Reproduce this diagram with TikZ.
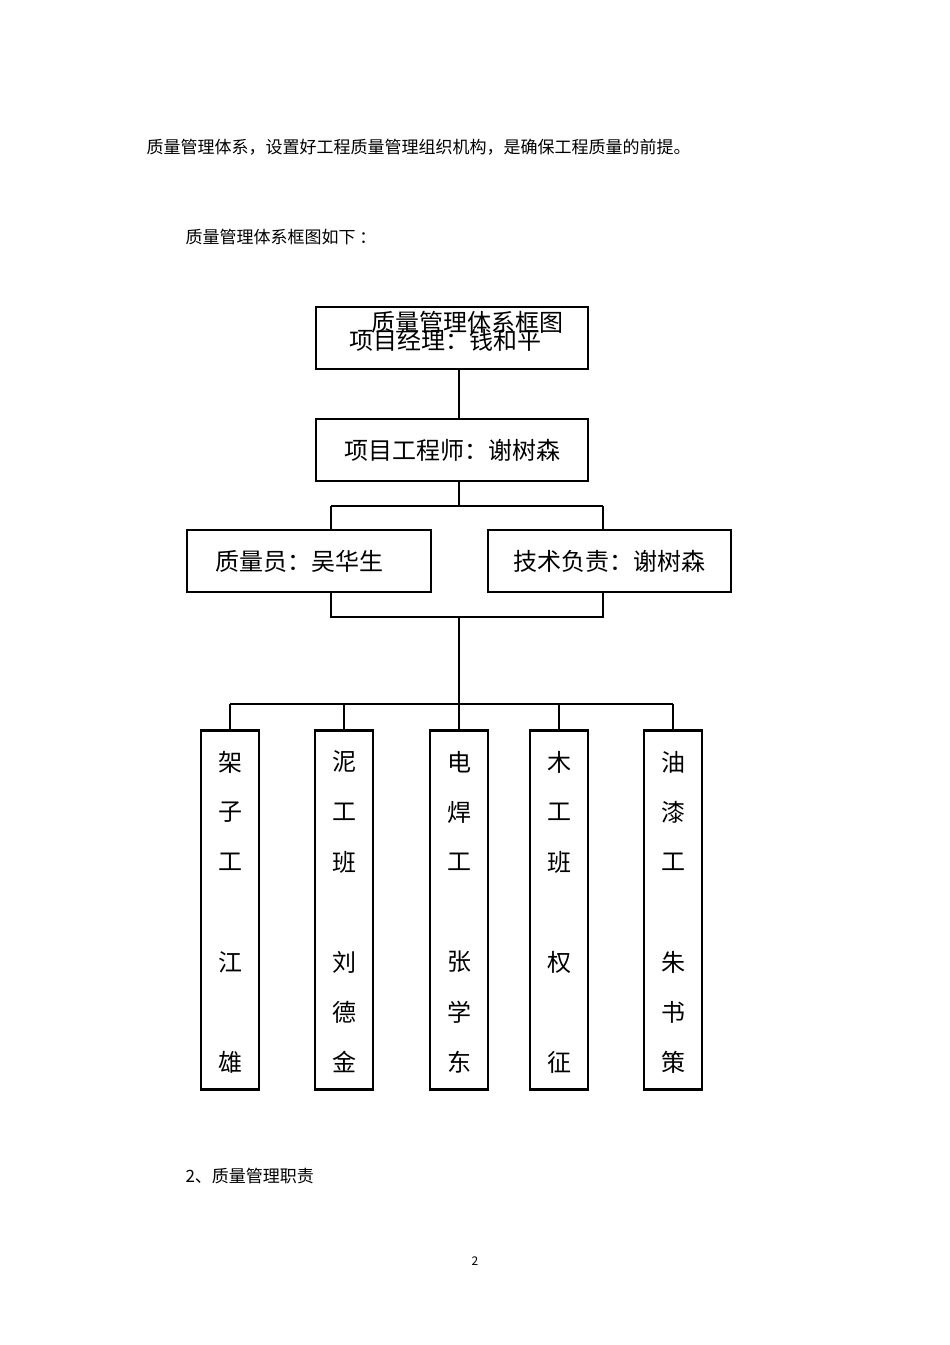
\documentclass[tikz,border=0pt]{standalone}
\usepackage{fontspec}
\setmainfont{Noto Sans CJK SC}
\begin{document}
\begin{tikzpicture}[x=1pt,y=-1pt,
  box/.style={draw,line width=2.6pt,inner sep=0pt},
  ln/.style={line width=2.6pt},
  big/.style={font=\fontsize{24}{24}\selectfont},
  col/.style={draw,line width=2.6pt,minimum width=58pt,minimum height=359pt,anchor=north,inner sep=0pt},
  colt/.style={font=\fontsize{24}{24}\selectfont,align=center}]
\useasboundingbox (0,0) rectangle (950,1345);
\node[anchor=west,font=\fontsize{17}{17}\selectfont] (t1) at (143,147) {质量管理体系，设置好工程质量管理组织机构，是确保工程质量的前提。};
\node[anchor=west,font=\fontsize{17}{17}\selectfont] (t2) at (182,237) {质量管理体系框图如下 ：};
\node[anchor=west,font=\fontsize{17}{17}\selectfont] (t3) at (182,1176) {2、质量管理职责};
\node[font=\fontsize{12}{12}\selectfont] (pg) at (475,1261) {2};

\node[box,minimum width=272pt,minimum height=62pt] (pm) at (452,338) {};
\node[big] (pmt) at (445,340) {项目经理：钱和平};
\node[big] (title) at (467,322) {质量管理体系框图};
\node[box,minimum width=272pt,minimum height=62pt,big] (pe) at (452,450) {项目工程师：谢树森};
\node[box,minimum width=244pt,minimum height=62pt,big] (qa) at (309,561) {\hspace*{-20pt}质量员：吴华生};
\node[box,minimum width=243pt,minimum height=62pt,big] (tech) at (609.5,561) {技术负责：谢树森};

\coordinate (a) at (459,506);
\coordinate (b) at (459,617);
\coordinate (c) at (459,704);
\draw[ln] (pm.south -| a) -- (pe.north -| a);
\draw[ln] (pe.south -| a) -- (a);
\draw[ln] (331,506) -- (603,506);
\draw[ln] (331,506) -- (qa.north -| 331,0);
\draw[ln] (603,506) -- (tech.north -| 603,0);
\draw[ln] (qa.south -| 331,0) -- (331,617) -- (603,617) -- (tech.south -| 603,0);
\draw[ln] (b) -- (c);
\draw[ln] (230,704) -- (673,704);

\foreach \n/\x/\a/\b/\c/\d/\e/\f in {
  c1/230/架/子/工/江/ /雄,
  c2/344/泥/工/班/刘/德/金,
  c3/459/电/焊/工/张/学/东,
  c4/559/木/工/班/权/ /征,
  c5/673/油/漆/工/朱/书/策}{
  \node[col] (\n) at (\x,729) {};
  \draw[ln] (\x,704) -- (\n.north);
  \node[colt] at (\x,762) {\a};
  \node[colt] at (\x,812) {\b};
  \node[colt] at (\x,862) {\c};
  \node[colt] at (\x,962) {\d};
  \node[colt] at (\x,1012) {\e};
  \node[colt] at (\x,1062) {\f};
}
\end{tikzpicture}
\end{document}
